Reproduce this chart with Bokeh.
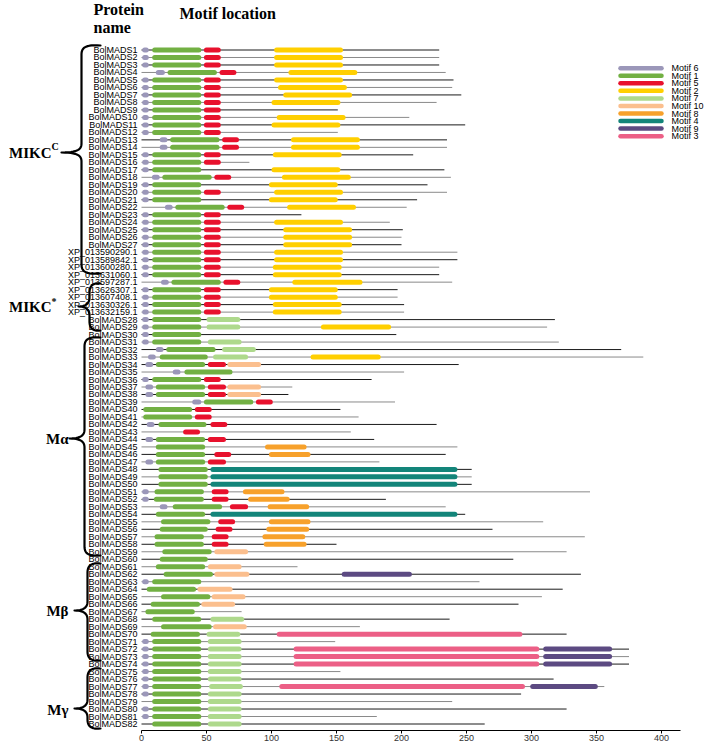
from bokeh.plotting import figure
from bokeh.models import Range1d, FixedTicker
from bokeh.embed import file_html
from bokeh.resources import INLINE
from bokeh.core.properties import value
import numpy as np

# ---------------- data ----------------
proteins = (["BolMADS%d" % i for i in range(1, 28)] +
            ["XP_013590290.1", "XP_013589842.1", "XP_013600280.1", "XP_013631060.1",
             "XP_013597287.1", "XP_013626307.1", "XP_013607408.1", "XP_013630326.1",
             "XP_013632159.1"] +
            ["BolMADS%d" % i for i in range(28, 83)])

protein_length = [229, 229, 229, 234, 240, 239, 246, 227, 151, 206,
                  249, 151, 235, 235, 209, 83, 233, 238, 220, 235,
                  212, 204, 123, 191, 201, 200, 200,
                  243, 243, 229, 229, 239, 197, 197, 202, 202,
                  318, 312, 196, 321, 369, 386, 244, 202, 177, 116,
                  113, 195, 153, 167, 227, 161, 179, 243, 234, 183,
                  254, 254, 254, 345, 188, 234, 249, 309, 270, 341,
                  150, 327, 286, 120, 338, 260, 324, 308, 290, 77,
                  237, 168, 327, 149, 375, 375, 375, 153, 317, 356,
                  292, 239, 327, 181, 264]

motif_names = ["Motif 6", "Motif 1", "Motif 5", "Motif 2", "Motif 7",
               "Motif 10", "Motif 8", "Motif 4", "Motif 9", "Motif 3"]
motif_colors = ["#9b97b9", "#72b043", "#e8112d", "#ffcf00", "#aed98c",
                "#fbbf8e", "#f7a12b", "#13857a", "#5c4a82", "#ec5f86"]

M = "BolMADS"
XP = ["XP_013590290.1", "XP_013589842.1", "XP_013600280.1", "XP_013631060.1",
      "XP_013597287.1", "XP_013626307.1", "XP_013607408.1", "XP_013630326.1",
      "XP_013632159.1"]

# Motif 6
motif6 = ([(M + str(i), 0.5, 5.6) for i in [1, 2, 3, 5, 6, 7, 8, 9, 10, 11, 12, 15, 16, 17, 19, 20, 21,
                                            23, 24, 25, 26, 27, 28, 29, 30, 31, 36, 51, 52, 63,
                                            71, 72, 73, 74, 75, 76, 77, 78, 80, 81]] +
          [(x, 0.5, 5.6) for x in XP if x != "XP_013597287.1"] +
          [(M + "4", 11, 18), (M + "13", 14, 20), (M + "14", 14, 20), (M + "18", 8, 14),
           (M + "22", 18, 24), ("XP_013597287.1", 15, 21), (M + "32", 11, 17), (M + "33", 5, 11),
           (M + "34", 3, 9), (M + "35", 24, 30), (M + "37", 3, 9), (M + "38", 3, 9),
           (M + "39", 39, 46), (M + "42", 4, 10), (M + "44", 3, 9), (M + "47", 3, 9),
           (M + "53", 14, 20)])

# Motif 1
motif1 = ([(M + str(i), 8.2, 46) for i in [1, 2, 3, 5, 6, 7, 8, 9, 10, 11, 12, 15, 16, 17, 19, 20, 21,
                                           23, 24, 25, 26, 27, 28, 29, 30, 31, 36, 63, 68,
                                           71, 72, 73, 74, 75, 76, 77, 78, 79, 80, 81, 82]] +
          [(x, 8.2, 46) for x in XP if x != "XP_013597287.1"] +
          [(M + "4", 20, 58), (M + "13", 22, 60), (M + "14", 22, 60), (M + "18", 16, 54),
           (M + "22", 26, 64), ("XP_013597287.1", 23, 61), (M + "32", 19, 57), (M + "33", 14, 51),
           (M + "34", 11, 49), (M + "35", 33, 70), (M + "37", 11, 49), (M + "38", 11, 49),
           (M + "39", 48, 86), (M + "40", 1.3, 39), (M + "41", 1.3, 39), (M + "42", 13, 50),
           (M + "44", 11, 49), (M + "45", 11, 49), (M + "46", 11, 49), (M + "47", 11, 49),
           (M + "48", 13, 51), (M + "49", 13, 51), (M + "50", 13, 51), (M + "51", 10, 48),
           (M + "52", 9.5, 48), (M + "53", 24, 62), (M + "54", 11, 49), (M + "55", 15, 53),
           (M + "56", 14, 51), (M + "57", 10, 48), (M + "58", 10, 48), (M + "59", 16, 54),
           (M + "60", 14, 51), (M + "61", 11, 49), (M + "62", 17, 55), (M + "64", 4, 42),
           (M + "65", 15, 53), (M + "66", 7, 45), (M + "67", 3, 41), (M + "69", 15, 54),
           (M + "70", 7, 45)])

# Motif 5
motif5 = ([(M + str(i), 48, 61) for i in [1, 2, 3, 5, 6, 7, 8, 9, 10, 11, 12, 15, 16, 20,
                                          23, 24, 25, 26, 27, 36]] +
          [(x, 48, 61) for x in XP if x != "XP_013597287.1"] +
          [(M + "4", 60, 73), (M + "13", 62, 75), (M + "14", 62, 75), (M + "18", 56, 69),
           (M + "22", 66, 79), ("XP_013597287.1", 63, 76), (M + "34", 51, 65), (M + "37", 51, 65),
           (M + "38", 51, 65), (M + "39", 88, 101), (M + "40", 41, 54), (M + "41", 41, 54),
           (M + "42", 53, 66), (M + "43", 32, 45), (M + "44", 51, 65), (M + "46", 56, 69),
           (M + "47", 51, 65), (M + "51", 54, 67), (M + "52", 54, 67), (M + "53", 68, 82),
           (M + "55", 59, 72), (M + "56", 57, 70), (M + "57", 54, 67), (M + "58", 54, 67)])

# Motif 2
motif2 = [(M + "1", 102, 155), (M + "2", 102, 155), (M + "3", 102, 155), (M + "4", 113, 166),
          (M + "5", 102, 155), (M + "6", 105, 158), (M + "7", 109, 162), (M + "8", 100, 153),
          (M + "10", 104, 157), (M + "11", 100, 153), (M + "13", 115, 168), (M + "14", 115, 168),
          (M + "15", 101, 154), (M + "17", 100, 153), (M + "18", 108, 161), (M + "19", 98, 151),
          (M + "20", 102, 155), (M + "21", 98, 151), (M + "22", 112, 165), (M + "24", 102, 155),
          (M + "25", 109, 162), (M + "26", 109, 162), (M + "27", 109, 162),
          ("XP_013590290.1", 102, 155), ("XP_013589842.1", 102, 155),
          ("XP_013600280.1", 101, 154), ("XP_013631060.1", 101, 154),
          ("XP_013597287.1", 116, 170), ("XP_013626307.1", 98, 151),
          ("XP_013607408.1", 98, 151), ("XP_013630326.1", 101, 154),
          ("XP_013632159.1", 101, 154), (M + "29", 138, 192), (M + "33", 130, 184)]

# Motif 7
motif7 = ([(M + "28", 50, 76), (M + "29", 50, 76), (M + "31", 51, 77), (M + "32", 62, 88),
           (M + "33", 55, 82), (M + "68", 53, 79), (M + "70", 50, 76), (M + "77", 52, 78)] +
          [(M + str(i), 51, 77) for i in [71, 72, 73, 74, 75, 76, 78, 79, 80, 81, 82]])

# Motif 10
motif10 = [(M + "34", 66, 92), (M + "37", 66, 92), (M + "38", 66, 92), (M + "59", 56, 82),
           (M + "61", 51, 77), (M + "62", 56, 83), (M + "64", 43, 70), (M + "65", 54, 80),
           (M + "66", 46, 72), (M + "69", 55, 81)]

# Motif 8
motif8 = [(M + "45", 95, 127), (M + "46", 98, 130), (M + "51", 78, 110), (M + "52", 82, 114),
          (M + "53", 97, 129), (M + "55", 98, 130), (M + "56", 96, 129), (M + "57", 93, 126),
          (M + "58", 94, 127)]

# Motif 4
motif4 = [(M + "48", 53, 243), (M + "49", 53, 243), (M + "50", 53, 243), (M + "54", 53, 243)]

# Motif 9
motif9 = [(M + "62", 154, 208), (M + "72", 309, 362), (M + "73", 309, 362),
          (M + "74", 309, 362), (M + "77", 299, 351)]

# Motif 3
motif3 = [(M + "70", 104, 293), (M + "72", 117, 306), (M + "73", 117, 306),
          (M + "74", 117, 306), (M + "77", 106, 295)]

motif_data = [motif6, motif1, motif5, motif2, motif7, motif10, motif8, motif4, motif9, motif3]

x_ticks = [0, 50, 100, 150, 200, 250, 300, 350, 400]

# ---------------- layout ----------------
W, H = 709, 744
PX_PER_UNIT = 1.3          # horizontal pixels per residue
X0_PAGE = 141              # page x of residue 0
BOTTOM_BORDER = 14
ROW0_PAGE = 49.5
ROWN_PAGE = 723.5
n = len(proteins)
S = (ROWN_PAGE - ROW0_PAGE) / (n - 1)
frame_top_page = 0
frame_bot_page = H - BOTTOM_BORDER

x_start = (0 - X0_PAGE) / PX_PER_UNIT
x_end = (W - X0_PAGE) / PX_PER_UNIT
y_top = (frame_top_page - ROW0_PAGE) / S
y_bot = (frame_bot_page - ROW0_PAGE) / S

def xd(px):   # page x -> data
    return (px - X0_PAGE) / PX_PER_UNIT

def yd(py):   # page y -> row units
    return (py - ROW0_PAGE) / S

p = figure(width=W, height=H, x_range=Range1d(x_start, x_end), y_range=Range1d(y_bot, y_top),
           output_backend="svg", toolbar_location=None, y_axis_location=None,
           min_border_left=0, min_border_right=0, min_border_top=0,
           min_border_bottom=BOTTOM_BORDER)
p.outline_line_color = None
p.grid.visible = False
p.background_fill_color = "white"
p.border_fill_color = "white"

ax = p.xaxis[0]
ax.ticker = FixedTicker(ticks=x_ticks)
ax.bounds = (0, 414.6)
ax.major_label_text_font = "Liberation Sans"
ax.major_label_text_font_size = "9px"
ax.major_label_text_color = "#333333"
ax.major_label_standoff = 1
ax.major_tick_out = 3
ax.major_tick_in = 0
ax.minor_tick_line_color = None
ax.axis_line_color = "black"
ax.major_tick_line_color = "black"

row_of = {name: i for i, name in enumerate(proteins)}

# backbone lines
line_cols = ["#1a1a1a" if i % 2 == 0 else "#8a8a8a" for i in range(n)]
p.segment(x0=[0] * n, y0=list(range(n)), x1=protein_length, y1=list(range(n)),
          line_color=line_cols, line_width=1)

# motif bars (rounded)
R = 2.5 / PX_PER_UNIT
for name, col, segs in zip(motif_names, motif_colors, motif_data):
    x0s, x1s, ys = [], [], []
    for prot, s, e in segs:
        a, b = s + R, e - R
        if b < a:
            a = b = (s + e) / 2
        x0s.append(a)
        x1s.append(b)
        ys.append(row_of[prot])
    p.segment(x0=x0s, y0=ys, x1=x1s, y1=ys, line_color=col, line_width=5, line_cap="round")

# protein labels
p.text(x=[xd(137)] * n, y=list(range(n)), text=proteins, text_font=value("Liberation Sans"),
       text_font_size="9px", text_align="right", text_baseline="middle", text_color="black")

# legend
leg_y = [yd(67.7 + 7.55 * k) for k in range(len(motif_names))]
p.segment(x0=[xd(620)] * 10, y0=leg_y, x1=[xd(661)] * 10, y1=leg_y,
          line_color=motif_colors, line_width=4.5, line_cap="round")
p.text(x=[xd(671)] * 10, y=leg_y, text=motif_names, text_font=value("Liberation Sans"),
       text_font_size="9px", text_align="left", text_baseline="middle", text_color="black")

# headers
hdr = dict(text_font=value("Liberation Serif"), text_font_style="bold", text_font_size="16px",
           text_baseline="middle", text_color="black")
p.text(x=[xd(93)], y=[yd(9)], text=["Protein"], text_align="left", **hdr)
p.text(x=[xd(93)], y=[yd(27)], text=["name"], text_align="left", **hdr)
p.text(x=[xd(179)], y=[yd(13)], text=["Motif location"], text_align="left", **hdr)

# braces
def brace(xe, xm, xt, yt, yb, yc, r=9.0):
    def bez(P0, P1, P2, P3, m=14):
        t = np.linspace(0, 1, m)[:, None]
        P0, P1, P2, P3 = map(np.array, (P0, P1, P2, P3))
        return ((1 - t) ** 3) * P0 + 3 * ((1 - t) ** 2) * t * P1 + 3 * (1 - t) * t ** 2 * P2 + t ** 3 * P3
    pts = []
    pts += list(bez((xe, yt), (xm + 4, yt - 1), (xm, yt + 2), (xm, yt + r)))
    pts += list(bez((xm, yc - r), (xm, yc - 3), (xm - 4, yc), (xt, yc)))
    pts += list(bez((xt, yc), (xm - 4, yc), (xm, yc + 3), (xm, yc + r)))
    pts += list(bez((xm, yb - r), (xm, yb - 2), (xm + 4, yb + 1), (xe, yb)))
    xs = [xd(q[0]) for q in pts]
    ys = [yd(q[1]) for q in pts]
    return xs, ys

braces = [(100, 81, 61, 45, 273, 152), (100, 89, 78, 283, 330, 306),
          (100, 84, 69, 337, 555, 438), (100, 87, 74, 563, 660, 610),
          (100, 87, 74, 668, 728, 708)]
bx, by = [], []
for b in braces:
    xs, ys = brace(*b)
    bx.append(xs)
    by.append(ys)
p.multi_line(xs=bx, ys=by, line_color="black", line_width=2.2, line_cap="round", line_join="round")

grp = dict(text_font=value("Liberation Serif"), text_font_style="bold", text_font_size="15px",
           text_baseline="middle", text_color="black")
p.text(x=[xd(51), xd(51)], y=[yd(152), yd(306)], text=["MIKC", "MIKC"], text_align="right", **grp)
p.text(x=[xd(51), xd(51)], y=[yd(146), yd(301)], text=["C", "*"], text_align="left",
       text_font=value("Liberation Serif"), text_font_style="bold", text_font_size="10px",
       text_baseline="middle", text_color="black")
p.text(x=[xd(68), xd(68), xd(68)], y=[yd(438), yd(610), yd(709)], text=["M\u03b1", "M\u03b2", "M\u03b3"],
       text_align="right", **grp)

open("out.html", "w").write(file_html(p, INLINE))
